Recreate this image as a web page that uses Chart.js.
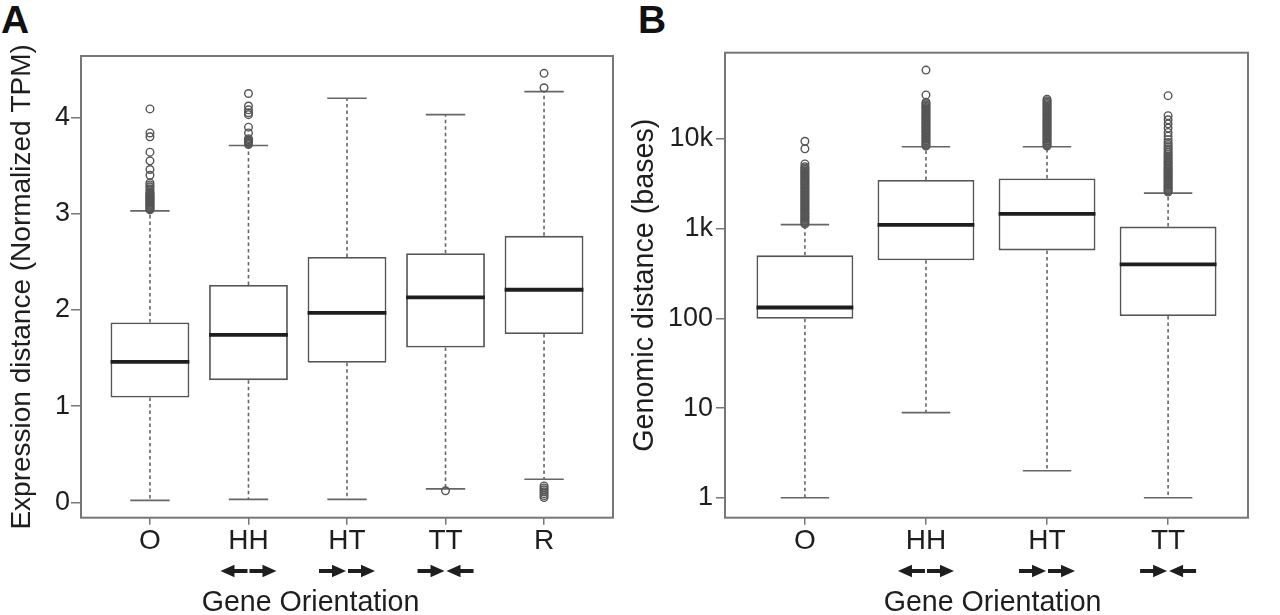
<!DOCTYPE html>
<html>
<head>
<meta charset="utf-8">
<script src="https://cdn.jsdelivr.net/npm/chart.js@4.4.1/dist/chart.umd.min.js"></script>
<style>
  body { margin: 0; background: #fff; width: 1280px; height: 615px; overflow: hidden; position: relative;
         font-family: "Liberation Sans", Arial, Helvetica, sans-serif; }
  .panel { position: absolute; top: 0; height: 615px; }
  .tag { position: absolute; top: 0; font-size: 39px; line-height: 39px; font-weight: bold; color: #111; }
</style>
</head>
<body>
<div class="tag" style="left:1px">A</div>
<div class="tag" style="left:638px">B</div>
<div class="panel" style="left:0;width:628px"><canvas id="chartA"></canvas></div>
<div class="panel" style="left:628px;width:652px"><canvas id="chartB"></canvas></div>
<script>
// Panel A: expression distance by gene orientation
const catsA = ['O', 'HH', 'HT', 'TT', 'R'];
const lowA = [0.02, 0.03, 0.03, 0.14, 0.24];
const q1A = [1.09, 1.27, 1.45, 1.61, 1.75];
const medA = [1.46, 1.74, 1.97, 2.13, 2.21];
const q3A = [1.87, 2.26, 2.55, 2.59, 2.77];
const highA = [3.03, 3.71, 4.20, 4.03, 4.27];
const outA = [
  [3.04, 3.05, 3.06, 3.07, 3.08, 3.09, 3.10, 3.11, 3.12, 3.13, 3.14, 3.15, 3.16, 3.17, 3.18, 3.19, 3.20, 3.21, 3.22, 3.24, 3.26, 3.28, 3.30, 3.32,
   3.40, 3.46, 3.55, 3.64, 3.80, 3.84, 4.09],
  [3.72, 3.73, 3.74, 3.75, 3.76, 3.77, 3.78, 3.84, 3.90, 4.03, 4.05, 4.08, 4.12, 4.25],
  [],
  [0.12],
  [0.05, 0.07, 0.09, 0.11, 0.13, 0.15, 0.17, 4.31, 4.46]
];
const ticksA = [0, 1, 2, 3, 4];

// Panel B: genomic distance (log scale)
const catsB = ['O', 'HH', 'HT', 'TT'];
const lowB = [1, 8.9, 2, 1];
const q1B = [99, 443, 571, 106];
const medB = [132, 1100, 1455, 400];
const q3B = [503, 3480, 3610, 1052];
const highB = [1107, 8150, 8150, 2483];
const outB = [
  [1120, 1160, 1200, 1240, 1285, 1330, 1375, 1425, 1475, 1525, 1580, 1635, 1690, 1750, 1810, 1875, 1940, 2010, 2080, 2150,
   2225, 2300, 2380, 2465, 2550, 2640, 2730, 2830, 2930, 3030, 3135, 3245, 3360, 3475, 3600, 3725, 3855, 3990, 4130, 4270,
   4420, 4580, 4740, 4900, 5250, 7750, 9400],
  [8300, 8600, 8900, 9200, 9500, 9850, 10200, 10550, 10900, 11300, 11700, 12100, 12500, 12950, 13400, 13850, 14350, 14850,
   15350, 15900, 16450, 17000, 17600, 18200, 18850, 19500, 20200, 20900, 21600, 22350, 23150, 23950, 24800, 25600, 30900, 58400],
  [8300, 8600, 8900, 9200, 9500, 9850, 10200, 10550, 10900, 11300, 11700, 12100, 12500, 12950, 13400, 13850, 14350, 14850,
   15350, 15900, 16450, 17000, 17600, 18200, 18850, 19500, 20200, 20900, 21600, 22350, 23150, 23950, 24800, 25700, 26600, 27700],
  [2550, 2640, 2730, 2830, 2930, 3030, 3135, 3245, 3360, 3475, 3600, 3725, 3855, 3990, 4130, 4270, 4420, 4580, 4740, 4900,
   5100, 5300, 5500, 5700, 5950, 6200, 6450, 6750, 7050, 7400, 7750, 8150, 8600, 9100, 9800, 10700, 11800, 13200, 14700,
   16300, 18100, 30300]
];
const ticksB = [1, 10, 100, 1000, 10000];

// arrow pairs drawn under the tick labels (null = no arrows)
const arrowsA = [null, ['<', '>'], ['>', '>'], ['>', '<'], null];
const arrowsB = [null, ['<', '>'], ['>', '>'], ['>', '<']];

const INK = '#1e1e1e';
const GREY = '#666';
Chart.defaults.font.family = '"Liberation Sans", Arial, Helvetica, sans-serif';
Chart.defaults.color = INK;

function boxPlugin(s) {
  return {
    id: 'boxParts',
    beforeDatasetsDraw(chart) {
      const { ctx, scales: { x, y } } = chart;
      ctx.save();
      ctx.strokeStyle = GREY;
      ctx.lineWidth = 1.6;
      s.low.forEach((lo, i) => {
        const px = x.getPixelForValue(i + 1);
        const half = x.getPixelForValue(i + 1.2) - px;
        ctx.setLineDash([3.5, 3]);
        ctx.beginPath();
        ctx.moveTo(px, y.getPixelForValue(s.q3[i]));
        ctx.lineTo(px, y.getPixelForValue(s.high[i]));
        ctx.moveTo(px, y.getPixelForValue(s.q1[i]));
        ctx.lineTo(px, y.getPixelForValue(lo));
        ctx.stroke();
        ctx.setLineDash([]);
        ctx.beginPath();
        [lo, s.high[i]].forEach(v => {
          const py = y.getPixelForValue(v);
          ctx.moveTo(px - half, py);
          ctx.lineTo(px + half, py);
        });
        ctx.stroke();
      });
      ctx.restore();
    },
    afterDatasetsDraw(chart) {
      const { ctx, scales: { x, y } } = chart;
      ctx.save();
      ctx.strokeStyle = INK;
      ctx.lineWidth = 3.8;
      s.med.forEach((m, i) => {
        const py = y.getPixelForValue(m);
        ctx.beginPath();
        ctx.moveTo(x.getPixelForValue(i + 0.6), py);
        ctx.lineTo(x.getPixelForValue(i + 1.4), py);
        ctx.stroke();
      });
      ctx.restore();
    },
    afterDraw(chart) {
      const { ctx, chartArea: a, scales: { x } } = chart;
      ctx.save();
      // frame around the plot region
      ctx.strokeStyle = '#777';
      ctx.lineWidth = 2;
      ctx.strokeRect(a.left, a.top, a.right - a.left, a.bottom - a.top);
      // orientation arrows
      ctx.fillStyle = INK;
      s.arrows.forEach((pair, i) => {
        if (!pair) return;
        const cx = x.getPixelForValue(i + 1);
        drawArrow(ctx, cx - 28, cx - 1, 571, pair[0]);
        drawArrow(ctx, cx + 1, cx + 28, 571, pair[1]);
      });
      // x axis title
      ctx.font = '28.6px "Liberation Sans", Arial, sans-serif';
      ctx.textAlign = 'center';
      ctx.textBaseline = 'alphabetic';
      ctx.fillText('Gene Orientation', x.getPixelForValue(s.titleAt), 611);
      ctx.restore();
    }
  };
}

function drawArrow(ctx, x0, x1, y, dir) {
  const head = 14, hh = 6.2, sh = 2;
  ctx.beginPath();
  if (dir === '>') {
    ctx.moveTo(x0, y - sh); ctx.lineTo(x1 - head, y - sh); ctx.lineTo(x1 - head, y - hh);
    ctx.lineTo(x1, y); ctx.lineTo(x1 - head, y + hh); ctx.lineTo(x1 - head, y + sh); ctx.lineTo(x0, y + sh);
  } else {
    ctx.moveTo(x1, y - sh); ctx.lineTo(x0 + head, y - sh); ctx.lineTo(x0 + head, y - hh);
    ctx.lineTo(x0, y); ctx.lineTo(x0 + head, y + hh); ctx.lineTo(x0 + head, y + sh); ctx.lineTo(x1, y + sh);
  }
  ctx.closePath();
  ctx.fill();
}

function makeChart(id, cfg) {
  const n = cfg.cats.length;
  const outliers = [];
  cfg.out.forEach((vals, i) => vals.forEach(v => outliers.push({ x: i + 1, y: v })));
  return new Chart(document.getElementById(id), {
    type: 'bar',
    data: {
      datasets: [
        {
          type: 'scatter',
          data: outliers,
          pointRadius: 3.8,
          pointBorderWidth: 1.4,
          pointBorderColor: '#555',
          pointBackgroundColor: 'rgba(0,0,0,0)'
        },
        {
          type: 'bar',
          data: cfg.cats.map((c, i) => ({ x: i + 1, y: [cfg.q1[i], cfg.q3[i]] })),
          backgroundColor: '#fff',
          borderColor: '#555',
          borderWidth: 1.8,
          borderSkipped: false,
          categoryPercentage: 1,
          barPercentage: 0.8
        }
      ]
    },
    options: {
      responsive: true,
      maintainAspectRatio: false,
      animation: false,
      layout: { padding: { left: 0, top: cfg.top, right: cfg.right, bottom: 0 } },
      plugins: { legend: { display: false }, tooltip: { enabled: false } },
      scales: {
        x: {
          type: 'linear',
          offset: false,
          min: 0.5 - n * 0.04,
          max: n + 0.5 + n * 0.04,
          afterBuildTicks: s => { s.ticks = cfg.cats.map((c, i) => ({ value: i + 1 })); },
          afterFit: s => { s.height = 97.3; },
          border: { display: false },
          grid: { offset: false, drawOnChartArea: false, tickLength: 7, color: '#777', lineWidth: 1.5 },
          ticks: {
            autoSkip: false, maxRotation: 0, padding: 0,
            font: { size: 28 }, color: INK,
            callback: v => cfg.cats[v - 1]
          }
        },
        y: {
          type: cfg.yType,
          min: cfg.yMin,
          max: cfg.yMax,
          afterBuildTicks: s => { s.ticks = cfg.ticks.map(v => ({ value: v })); },
          afterFit: s => { s.width = cfg.axisW; },
          border: { display: false },
          grid: { drawOnChartArea: false, tickLength: cfg.tickLen, color: '#777', lineWidth: 1.5 },
          ticks: { padding: cfg.tickPad, font: { size: 27 }, color: INK, callback: cfg.fmt },
          title: {
            display: true, text: cfg.yTitle, color: INK,
            font: { size: cfg.titleSize, lineHeight: 1 }, padding: { top: cfg.titlePad, bottom: 0 }
          }
        }
      }
    },
    plugins: [boxPlugin({
      low: cfg.low, q1: cfg.q1, med: cfg.med, q3: cfg.q3, high: cfg.high,
      arrows: cfg.arrows, titleAt: cfg.titleAt
    })]
  });
}

makeChart('chartA', {
  cats: catsA, low: lowA, q1: q1A, med: medA, q3: q3A, high: highA, out: outA, arrows: arrowsA,
  ticks: ticksA, yType: 'linear', yMin: -0.16, yMax: 4.64, fmt: v => String(v),
  yTitle: 'Expression distance (Normalized TPM)', titlePad: 8, titleSize: 28,
  top: 56, right: 15, axisW: 81, tickLen: 10, tickPad: 1, titleAt: 2.63
});

makeChart('chartB', {
  cats: catsB, low: lowB, q1: q1B, med: medB, q3: q3B, high: highB, out: outB, arrows: arrowsB,
  ticks: ticksB, yType: 'logarithmic', yMin: 0.645, yMax: 91200,
  fmt: v => (v >= 1000 ? (v / 1000) + 'k' : String(v)),
  yTitle: 'Genomic distance (bases)', titlePad: 3, titleSize: 28.7,
  top: 52.7, right: 32, axisW: 97, tickLen: 9, tickPad: 3, titleAt: 2.55
});
</script>
</body>
</html>
